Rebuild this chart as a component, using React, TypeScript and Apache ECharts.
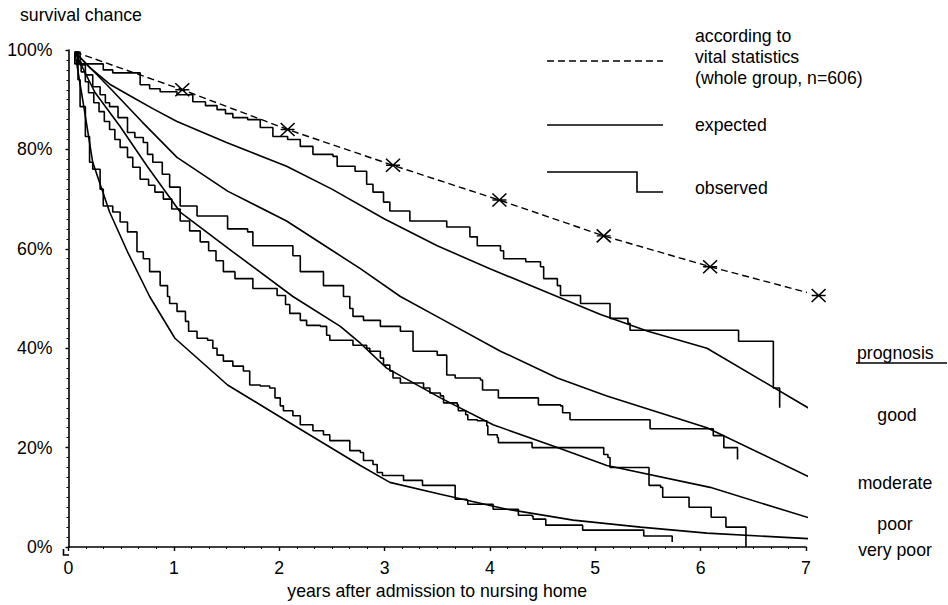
import React, { useEffect, useRef } from "react";
import * as echarts from "echarts";

// ---- tick labels ----
const xTicks = [0, 1, 2, 3, 4, 5, 6, 7];
const yTicks = [0, 20, 40, 60, 80, 100];
const yTickLabels = ["0%", "20%", "40%", "60%", "80%", "100%"];

// ---- according to vital statistics (whole group) ----
const vitalT = [0.06, 1.08, 2.08, 3.08, 4.09, 5.08, 6.09, 7.12];
const vitalV = [99.6, 92, 84, 76.8, 69.8, 62.6, 56.4, 50.6];

// ---- expected curves ----
const expGoodT = [0.06, 0.2, 0.4, 0.6, 0.8, 1.03, 1.5, 2.07, 2.5, 3.0, 3.5, 4.0, 4.5, 5.05, 5.5, 6.06, 7.1];
const expGoodV = [99.6, 96.5, 93, 90.6, 88.2, 85.6, 81.4, 76.6, 72, 66, 60.6, 56, 51.6, 46.8, 43.4, 40, 27];

const expModT = [0.06, 0.4, 0.7, 1.03, 1.51, 2.07, 2.5, 2.77, 3.15, 3.53, 4.1, 4.64, 5.11, 6.06, 7.1];
const expModV = [99.6, 92.2, 85.5, 78.4, 71.6, 65.6, 59.7, 56, 50.4, 46, 39.4, 34, 30.4, 24, 13.4];

const expPoorT = [0.06, 0.25, 0.49, 0.75, 1.06, 1.56, 2.13, 2.58, 2.77, 3.02, 3.53, 4.03, 4.64, 5.11, 6.09, 7.1];
const expPoorV = [99.6, 91.5, 84.6, 76.5, 67.4, 59.4, 50.4, 44.4, 41, 36, 30, 24.6, 20, 16.4, 12, 5.4];

const expVPoorT = [0.06, 0.15, 0.23, 0.39, 0.56, 0.77, 1.01, 1.51, 2.13, 2.77, 3.05, 3.53, 4.16, 4.79, 5.43, 6.06, 7.1];
const expVPoorV = [99.6, 88, 77.4, 67.4, 59.4, 50.4, 42, 32.6, 24.6, 16.4, 13, 10.6, 7.6, 5.4, 4, 2.8, 1.6];

// ---- observed (Kaplan-Meier steps: time of drop, value after drop) ----
const obsGoodT = [0.06, 0.06, 0.33, 0.42, 0.68, 0.77, 0.87, 1.03, 1.18, 1.3, 1.41, 1.49, 1.56, 1.7, 1.82, 1.94, 2.08, 2.2, 2.32, 2.51, 2.55, 2.72, 2.83, 2.89, 2.99, 3.05, 3.24, 3.59, 3.81, 3.88, 4.1, 4.13, 4.34, 4.48, 4.51, 4.64, 4.67, 4.86, 5.14, 5.31, 5.33, 6.36, 6.69, 6.75];
const obsGoodV = [99.6, 97.2, 96, 95.4, 93, 92.2, 91.6, 91, 89.6, 88.8, 88, 87.2, 86.4, 86, 84.4, 82.6, 82, 80.6, 79, 78.6, 76.6, 75.6, 73, 71.4, 69.4, 67.6, 65.6, 64.4, 62.4, 60.6, 59.6, 58, 57.4, 56.4, 54, 52.6, 50.6, 49, 46, 45, 43.6, 41.4, 32, 28];

const obsModT = [0.06, 0.11, 0.16, 0.23, 0.3, 0.35, 0.39, 0.47, 0.56, 0.63, 0.71, 0.75, 0.8, 0.89, 0.96, 1.06, 1.22, 1.51, 1.7, 1.75, 2.13, 2.2, 2.42, 2.61, 2.67, 2.7, 2.8, 2.96, 3.15, 3.27, 3.5, 3.59, 3.67, 3.91, 3.93, 4.08, 4.46, 4.67, 4.69, 4.76, 5.52, 6.12, 6.22, 6.35];
const obsModV = [99.6, 97, 95, 92.6, 91, 89.4, 88.6, 86.4, 83.4, 82.4, 81.4, 79, 77.4, 75, 72.4, 68.6, 66.6, 64, 63.4, 60.6, 58.6, 55.4, 52.6, 50.4, 48, 46.4, 45.6, 44.4, 43.4, 39.4, 38.6, 34.6, 34, 33.6, 31.6, 30, 28.6, 28.4, 27, 25.6, 23.8, 22.4, 20, 17.6];

const obsPoorT = [0.06, 0.09, 0.12, 0.16, 0.19, 0.24, 0.29, 0.34, 0.39, 0.44, 0.49, 0.56, 0.61, 0.68, 0.76, 0.82, 0.9, 0.98, 1.06, 1.15, 1.25, 1.33, 1.4, 1.47, 1.58, 1.75, 1.98, 2.06, 2.1, 2.2, 2.26, 2.39, 2.45, 2.48, 2.7, 2.83, 2.86, 2.96, 2.99, 3.05, 3.08, 3.15, 3.37, 3.43, 3.53, 3.56, 3.69, 3.7, 3.77, 3.79, 3.88, 3.97, 3.98, 4.07, 4.08, 4.4, 5.08, 5.12, 5.14, 5.51, 5.62, 5.64, 5.89, 6.1, 6.24, 6.43];
const obsPoorV = [99.6, 97.6, 95.6, 93.6, 91.4, 89.4, 87.6, 85.6, 84, 82, 80.4, 78.4, 76.4, 74, 72.8, 71.4, 70, 68, 65.6, 63.6, 61.4, 59.6, 57.6, 55.4, 54, 52, 50.6, 48.8, 47, 45.6, 44.6, 44.4, 42.6, 41.6, 40.6, 40, 39.4, 38, 36.6, 35.4, 34, 33, 32, 31, 30.4, 29, 28.6, 27.4, 26.6, 25.6, 25.4, 24.4, 22.6, 22, 21, 20, 18.6, 18, 16, 12.4, 12, 10, 8, 6, 4, 0];

const obsVPoorT = [0.06, 0.09, 0.11, 0.16, 0.2, 0.23, 0.3, 0.33, 0.42, 0.49, 0.56, 0.65, 0.71, 0.77, 0.87, 0.94, 0.96, 1.03, 1.11, 1.14, 1.22, 1.32, 1.37, 1.41, 1.47, 1.56, 1.66, 1.72, 1.82, 1.91, 1.96, 2.01, 2.04, 2.13, 2.2, 2.32, 2.42, 2.48, 2.67, 2.77, 2.8, 2.89, 2.93, 2.98, 3.18, 3.36, 3.67, 3.78, 3.79, 4.03, 4.27, 4.4, 4.41, 4.53, 4.88, 5.46, 5.73];
const obsVPoorV = [99.6, 94, 88.6, 82.6, 77.4, 76, 72, 68.6, 67.4, 65.4, 63.4, 59.4, 58, 55.4, 52.6, 50.4, 49, 47.4, 45.4, 43.4, 42, 41.6, 40, 38.6, 37.4, 36.4, 35.4, 32.6, 32.4, 32, 30, 28.4, 27.4, 26.4, 24.6, 23.4, 22.6, 21.4, 19.4, 19, 17.4, 16.6, 15, 14.4, 13.4, 12.4, 9.6, 9.4, 8.6, 7.6, 6.4, 6.2, 5.6, 4.4, 3.4, 2.2, 1];

const FONT = "'Liberation Sans', Arial, Helvetica, sans-serif";
const FS = 17.7;
const INK = "#000";
const LW = 1.6;

const pairs = (t: number[], v: number[]) => t.map((x, i) => [x, v[i]]);

function lineSeries(name: string, t: number[], v: number[], step: boolean) {
  return {
    name,
    type: "line",
    data: pairs(t, v),
    step: step ? "end" : false,
    showSymbol: false,
    symbol: "none",
    clip: false,
    silent: true,
    lineStyle: { color: INK, width: LW },
  };
}

export default function App() {
  const ref = useRef<HTMLDivElement>(null);
  useEffect(() => {
    const chart = echarts.init(ref.current!, null, { renderer: "svg" });
    const text = (s: string, x: number, y: number, align = "left") => ({
      type: "text",
      x,
      y,
      style: { text: s, fill: INK, font: `${FS}px ${FONT}`, textAlign: align, textVerticalAlign: "middle" },
    });
    const option = {
      animation: false,
      backgroundColor: "#fff",
      grid: { left: 68.5, right: 142, top: 50, bottom: 55 },
      xAxis: {
        type: "value",
        min: xTicks[0],
        max: xTicks[xTicks.length - 1],
        interval: 1,
        offset: 5,
        name: "years after admission to nursing home",
        nameLocation: "middle",
        nameGap: 30,
        nameTextStyle: { color: INK, fontSize: FS, fontFamily: FONT },
        axisLine: { lineStyle: { color: INK, width: LW } },
        axisTick: { length: 4, lineStyle: { color: INK, width: 1.4 } },
        minorTick: { show: true, splitNumber: 6, length: 2, lineStyle: { color: INK, width: 1 } },
        splitLine: { show: false },
        axisLabel: { color: INK, fontSize: FS, fontFamily: FONT, margin: 7 },
      },
      yAxis: {
        type: "value",
        min: yTicks[0],
        max: yTicks[yTicks.length - 1],
        interval: 20,
        offset: 5,
        axisLine: { show: true, lineStyle: { color: INK, width: LW } },
        axisTick: { show: true, length: 3, lineStyle: { color: INK, width: 1.4 } },
        minorTick: { show: true, splitNumber: 10, length: 2, lineStyle: { color: INK, width: 1 } },
        splitLine: { show: false },
        axisLabel: {
          color: INK,
          fontSize: FS,
          fontFamily: FONT,
          margin: 11,
          formatter: (v: number) => {
            const i = yTicks.indexOf(v);
            return i >= 0 ? yTickLabels[i] : "";
          },
        },
      },
      series: [
        {
          name: "vital statistics",
          type: "line",
          data: pairs(vitalT, vitalV).map((p, i) => (i === 0 ? { value: p, symbol: "none" } : { value: p })),
          showSymbol: true,
          symbol: "path://M0,0L10,10M10,0L0,10M0,5L10,5",
          symbolSize: [14, 13],
          clip: false,
          silent: true,
          itemStyle: { color: "none", borderColor: INK, borderWidth: 1.5 },
          lineStyle: { color: INK, width: 1.4, type: [7, 4] },
        },
        lineSeries("expected good", expGoodT, expGoodV, false),
        lineSeries("expected moderate", expModT, expModV, false),
        lineSeries("expected poor", expPoorT, expPoorV, false),
        lineSeries("expected very poor", expVPoorT, expVPoorV, false),
        lineSeries("observed good", obsGoodT, obsGoodV, true),
        lineSeries("observed moderate", obsModT, obsModV, true),
        lineSeries("observed poor", obsPoorT, obsPoorV, true),
        lineSeries("observed very poor", obsVPoorT, obsVPoorV, true),
      ],
      graphic: [
        {
          type: "polyline",
          shape: { points: [[63.5, 549], [63.5, 555], [69, 555]] },
          style: { stroke: INK, lineWidth: LW, fill: null },
        },
        text("survival chance", 20, 15),
        text("according to", 695, 36),
        text("vital statistics", 695, 57),
        text("(whole group, n=606)", 695, 78),
        text("expected", 695, 125),
        text("observed", 695, 188),
        {
          type: "line",
          shape: { x1: 547, y1: 61, x2: 663, y2: 61 },
          style: { stroke: INK, lineWidth: 1.4, lineDash: [7, 4] },
        },
        {
          type: "line",
          shape: { x1: 547, y1: 125, x2: 663, y2: 125 },
          style: { stroke: INK, lineWidth: LW },
        },
        {
          type: "polyline",
          shape: { points: [[547, 172], [637, 172], [637, 192], [663, 192]] },
          style: { stroke: INK, lineWidth: LW, fill: null },
        },
        text("prognosis", 857, 353),
        {
          type: "line",
          shape: { x1: 856, y1: 363, x2: 947, y2: 363 },
          style: { stroke: INK, lineWidth: 1.3 },
        },
        text("good", 897, 415, "center"),
        text("moderate", 895, 483, "center"),
        text("poor", 895, 524, "center"),
        text("very poor", 895, 550, "center"),
      ],
    };
    chart.setOption(option as any);
    return () => chart.dispose();
  }, []);
  return (
    <div
      ref={ref}
      style={{ position: "fixed", left: 0, top: 0, width: 948, height: 605, background: "#fff" }}
    />
  );
}
